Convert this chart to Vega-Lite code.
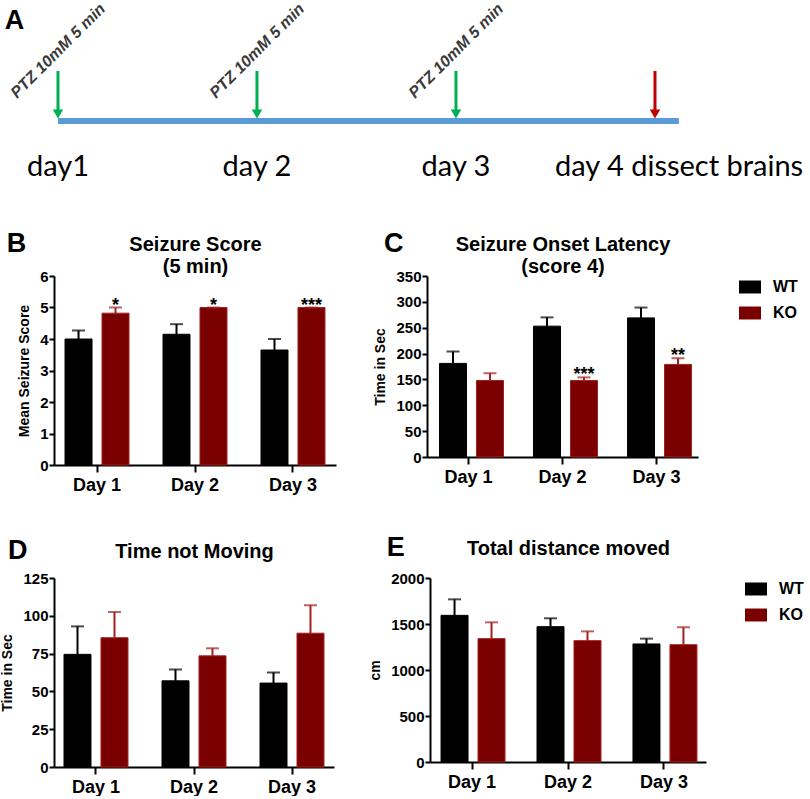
{
  "$schema": "https://vega.github.io/schema/vega-lite/v6.json",
  "background": "white",
  "padding": 0,
  "spacing": 44,
  "resolve": {"scale": {"color": "independent"}, "legend": {"color": "independent"}},
  "config": {
    "font": "Liberation Sans",
    "view": {"stroke": null},
    "title": {"font": "Liberation Sans", "fontSize": 27, "fontWeight": "bold", "color": "black", "anchor": "start", "frame": "bounds"},
    "axis": {"domainColor": "black", "domainWidth": 2, "tickColor": "black", "tickWidth": 2, "labelColor": "black", "labelFont": "Liberation Sans", "labelFontWeight": "bold", "titleFont": "Liberation Sans", "titleFontWeight": "bold", "titleColor": "black", "grid": false},
    "axisY": {"tickSize": 5, "labelFontSize": 15, "titleFontSize": 14, "labelPadding": 1, "titlePadding": 8, "labelOverlap": false},
    "axisX": {"tickSize": 7, "labelFontSize": 18, "labelAngle": 0, "labelPadding": 4, "titleFontSize": 20},
    "legend": {"labelFont": "Liberation Sans", "labelFontSize": 16, "labelFontWeight": "bold", "labelColor": "black", "symbolType": "M-1,-0.59H1V0.59H-1Z", "symbolSize": 484, "symbolStrokeWidth": 0, "rowPadding": 7, "labelOffset": 12, "padding": 0, "offset": 41}
  },
  "datasets": {
    "seizure": [
      {"day": "Day 1", "genotype": "WT", "mean": 4.0, "upper": 4.27, "sig": ""},
      {"day": "Day 1", "genotype": "KO", "mean": 4.82, "upper": 5.0, "sig": "*"},
      {"day": "Day 2", "genotype": "WT", "mean": 4.15, "upper": 4.47, "sig": ""},
      {"day": "Day 2", "genotype": "KO", "mean": 5.0, "upper": 5.0, "sig": "*"},
      {"day": "Day 3", "genotype": "WT", "mean": 3.65, "upper": 4.0, "sig": ""},
      {"day": "Day 3", "genotype": "KO", "mean": 5.0, "upper": 5.0, "sig": "***"}
    ],
    "latency": [
      {"day": "Day 1", "genotype": "WT", "mean": 181, "upper": 204, "sig": ""},
      {"day": "Day 1", "genotype": "KO", "mean": 148, "upper": 162, "sig": ""},
      {"day": "Day 2", "genotype": "WT", "mean": 253, "upper": 270, "sig": ""},
      {"day": "Day 2", "genotype": "KO", "mean": 148, "upper": 154, "sig": "***"},
      {"day": "Day 3", "genotype": "WT", "mean": 269, "upper": 289, "sig": ""},
      {"day": "Day 3", "genotype": "KO", "mean": 179, "upper": 191, "sig": "**"}
    ],
    "notmoving": [
      {"day": "Day 1", "genotype": "WT", "mean": 74.5, "upper": 93, "sig": ""},
      {"day": "Day 1", "genotype": "KO", "mean": 85.5, "upper": 102.5, "sig": ""},
      {"day": "Day 2", "genotype": "WT", "mean": 57, "upper": 64.5, "sig": ""},
      {"day": "Day 2", "genotype": "KO", "mean": 73.5, "upper": 78.5, "sig": ""},
      {"day": "Day 3", "genotype": "WT", "mean": 55.5, "upper": 62.5, "sig": ""},
      {"day": "Day 3", "genotype": "KO", "mean": 88.5, "upper": 107, "sig": ""}
    ],
    "distance": [
      {"day": "Day 1", "genotype": "WT", "mean": 1594, "upper": 1768, "sig": ""},
      {"day": "Day 1", "genotype": "KO", "mean": 1341, "upper": 1518, "sig": ""},
      {"day": "Day 2", "genotype": "WT", "mean": 1471, "upper": 1562, "sig": ""},
      {"day": "Day 2", "genotype": "KO", "mean": 1319, "upper": 1420, "sig": ""},
      {"day": "Day 3", "genotype": "WT", "mean": 1283, "upper": 1341, "sig": ""},
      {"day": "Day 3", "genotype": "KO", "mean": 1275, "upper": 1464, "sig": ""}
    ],
    "timeline": [{"start": 1, "end": 4.12}],
    "events": [
      {"day": 1, "event": "PTZ", "note": "PTZ 10mM 5 min", "label": "day1"},
      {"day": 2, "event": "PTZ", "note": "PTZ 10mM 5 min", "label": "day 2"},
      {"day": 3, "event": "PTZ", "note": "PTZ 10mM 5 min", "label": "day 3"},
      {"day": 4, "event": "dissect", "note": "", "label": "day 4 dissect brains"}
    ]
  },
  "vconcat": [
    {
      "width": 756,
      "height": 185,
      "title": {"text": "A", "offset": -34, "dx": -3},
      "layer": [
        {
          "data": {"name": "timeline"},
          "mark": {"type": "rule", "strokeWidth": 6, "color": "#5b9bd5"},
          "encoding": {
            "x": {"field": "start", "type": "quantitative", "scale": {"domain": [0.98, 4.779], "nice": false, "zero": false}, "axis": null},
            "x2": {"field": "end"},
            "y": {"datum": 0, "type": "quantitative", "scale": {"domain": [-1.3, 2.4], "nice": false, "zero": false}, "axis": null}
          }
        },
        {
          "data": {"name": "events"},
          "mark": {"type": "rule", "strokeWidth": 3},
          "encoding": {
            "x": {"field": "day", "type": "quantitative"},
            "y": {"datum": 1, "type": "quantitative"},
            "y2": {"datum": 0.2},
            "color": {"condition": {"test": "datum.event == 'PTZ'", "value": "#00b050"}, "value": "#c00000"}
          }
        },
        {
          "data": {"name": "events"},
          "mark": {"type": "point", "shape": "triangle-down", "filled": true, "size": 110, "opacity": 1},
          "encoding": {
            "x": {"field": "day", "type": "quantitative"},
            "y": {"datum": 0.14, "type": "quantitative"},
            "color": {"condition": {"test": "datum.event == 'PTZ'", "value": "#00b050"}, "value": "#c00000"}
          }
        },
        {
          "data": {"name": "events"},
          "transform": [{"filter": "datum.event == 'PTZ'"}],
          "mark": {"type": "text", "angle": -45, "align": "left", "baseline": "alphabetic", "dx": -58, "font": "Liberation Sans", "fontSize": 16, "fontWeight": "bold", "fontStyle": "italic", "color": "#3a3a3a"},
          "encoding": {
            "x": {"field": "day", "type": "quantitative"},
            "y": {"datum": 1.26, "type": "quantitative"},
            "text": {"field": "note"}
          }
        },
        {
          "data": {"name": "events"},
          "transform": [{"filter": "datum.day < 4"}],
          "mark": {"type": "text", "align": "center", "baseline": "alphabetic", "font": "Lato", "fontSize": 29, "color": "black"},
          "encoding": {
            "x": {"field": "day", "type": "quantitative"},
            "y": {"datum": -1.1, "type": "quantitative"},
            "text": {"field": "label"}
          }
        },
        {
          "data": {"name": "events"},
          "transform": [{"filter": "datum.day == 4"}],
          "mark": {"type": "text", "align": "left", "baseline": "alphabetic", "dx": -100, "font": "Lato", "fontSize": 29, "color": "black"},
          "encoding": {
            "x": {"field": "day", "type": "quantitative"},
            "y": {"datum": -1.1, "type": "quantitative"},
            "text": {"field": "label"}
          }
        }
      ]
    },
    {
      "spacing": 40,
      "resolve": {"scale": {"color": "independent"}, "legend": {"color": "independent"}},
      "vconcat": [
        {
          "spacing": 37,
          "resolve": {"scale": {"color": "independent"}, "legend": {"color": "independent"}},
          "hconcat": [
            {
              "width": 282, "height": 189,
              "title": {"text": "B", "offset": -24, "dx": -11},
              "data": {"name": "seizure"},
              "resolve": {"axis": {"x": "independent", "y": "independent"}},
              "layer": [
                {
                  "mark": {"type": "bar", "strokeWidth": 1},
                  "encoding": {
                    "x": {"field": "day", "type": "nominal", "title": null, "scale": {"paddingInner": 0.347, "paddingOuter": 0.1125}, "axis": {"orient": "bottom"}},
                    "xOffset": {"field": "genotype", "type": "nominal", "sort": ["WT", "KO"], "scale": {"paddingInner": 0.27}},
                    "y": {"field": "mean", "type": "quantitative", "title": "Mean Seizure Score", "scale": {"domain": [0, 6], "nice": false}, "axis": {"values": [0, 1, 2, 3, 4, 5, 6]}},
                    "color": {"field": "genotype", "type": "nominal", "sort": ["WT", "KO"], "scale": {"domain": ["WT", "KO"], "range": ["#000000", "#7a0000"]}, "legend": null},
                    "stroke": {"condition": {"test": "datum.genotype == 'KO'", "value": "#a3201f"}, "value": "#000000"}
                  }
                },
                {
                  "mark": {"type": "rule", "strokeWidth": 2},
                  "encoding": {
                    "x": {"field": "day", "type": "nominal", "axis": null},
                    "xOffset": {"field": "genotype", "type": "nominal", "sort": ["WT", "KO"]},
                    "y": {"field": "mean", "type": "quantitative", "axis": null},
                    "y2": {"field": "upper"},
                    "color": {"condition": {"test": "datum.genotype == 'KO'", "value": "#a3201f"}, "value": "#000000"}
                  }
                },
                {
                  "mark": {"type": "tick", "thickness": 2, "size": 13},
                  "encoding": {
                    "x": {"field": "day", "type": "nominal", "axis": {"orient": "top", "title": ["Seizure Score", "(5 min)"], "labels": false, "ticks": false, "domain": false, "titlePadding": 0}},
                    "xOffset": {"field": "genotype", "type": "nominal", "sort": ["WT", "KO"]},
                    "y": {"field": "upper", "type": "quantitative", "axis": null},
                    "color": {"condition": {"test": "datum.genotype == 'KO'", "value": "#a3201f"}, "value": "#000000"}
                  }
                },
                {
                  "transform": [{"filter": "datum.sig != ''"}],
                  "mark": {"type": "text", "baseline": "alphabetic", "dy": 3, "fontSize": 18, "fontWeight": "bold", "color": "black"},
                  "encoding": {
                    "x": {"field": "day", "type": "nominal", "axis": null},
                    "xOffset": {"field": "genotype", "type": "nominal", "sort": ["WT", "KO"]},
                    "y": {"field": "upper", "type": "quantitative", "axis": null},
                    "text": {"field": "sig"}
                  }
                }
              ]
            },
            {
              "width": 271, "height": 181,
              "title": {"text": "C", "offset": -24, "dx": 10},
              "data": {"name": "latency"},
              "resolve": {"axis": {"x": "independent", "y": "independent"}},
              "layer": [
                {
                  "mark": {"type": "bar", "strokeWidth": 1},
                  "encoding": {
                    "x": {"field": "day", "type": "nominal", "title": null, "scale": {"paddingInner": 0.383, "paddingOuter": 0.133}, "axis": {"orient": "bottom"}},
                    "xOffset": {"field": "genotype", "type": "nominal", "sort": ["WT", "KO"], "scale": {"paddingInner": 0.343}},
                    "y": {"field": "mean", "type": "quantitative", "title": "Time in Sec", "scale": {"domain": [0, 350], "nice": false}, "axis": {"values": [0, 50, 100, 150, 200, 250, 300, 350]}},
                    "color": {"field": "genotype", "type": "nominal", "sort": ["WT", "KO"], "scale": {"domain": ["WT", "KO"], "range": ["#000000", "#7a0000"]}, "legend": {"title": null, "orient": "right"}},
                    "stroke": {"condition": {"test": "datum.genotype == 'KO'", "value": "#a3201f"}, "value": "#000000"}
                  }
                },
                {
                  "mark": {"type": "rule", "strokeWidth": 2},
                  "encoding": {
                    "x": {"field": "day", "type": "nominal", "axis": null},
                    "xOffset": {"field": "genotype", "type": "nominal", "sort": ["WT", "KO"]},
                    "y": {"field": "mean", "type": "quantitative", "axis": null},
                    "y2": {"field": "upper"},
                    "color": {"condition": {"test": "datum.genotype == 'KO'", "value": "#a3201f"}, "value": "#000000"}
                  }
                },
                {
                  "mark": {"type": "tick", "thickness": 2, "size": 13},
                  "encoding": {
                    "x": {"field": "day", "type": "nominal", "axis": {"orient": "top", "title": ["Seizure Onset Latency", "(score 4)"], "labels": false, "ticks": false, "domain": false, "titlePadding": 0}},
                    "xOffset": {"field": "genotype", "type": "nominal", "sort": ["WT", "KO"]},
                    "y": {"field": "upper", "type": "quantitative", "axis": null},
                    "color": {"condition": {"test": "datum.genotype == 'KO'", "value": "#a3201f"}, "value": "#000000"}
                  }
                },
                {
                  "transform": [{"filter": "datum.sig != ''"}],
                  "mark": {"type": "text", "baseline": "alphabetic", "dy": 3, "fontSize": 18, "fontWeight": "bold", "color": "black"},
                  "encoding": {
                    "x": {"field": "day", "type": "nominal", "axis": null},
                    "xOffset": {"field": "genotype", "type": "nominal", "sort": ["WT", "KO"]},
                    "y": {"field": "upper", "type": "quantitative", "axis": null},
                    "text": {"field": "sig"}
                  }
                }
              ]
            }
          ]
        },
        {
          "spacing": 34,
          "resolve": {"scale": {"color": "independent"}, "legend": {"color": "independent"}},
          "hconcat": [
            {
              "width": 280, "height": 189,
              "title": {"text": "D", "offset": -24, "dx": 7},
              "data": {"name": "notmoving"},
              "resolve": {"axis": {"x": "independent", "y": "independent"}},
              "layer": [
                {
                  "mark": {"type": "bar", "strokeWidth": 1},
                  "encoding": {
                    "x": {"field": "day", "type": "nominal", "title": null, "scale": {"paddingInner": 0.347, "paddingOuter": 0.102}, "axis": {"orient": "bottom"}},
                    "xOffset": {"field": "genotype", "type": "nominal", "sort": ["WT", "KO"], "scale": {"paddingInner": 0.27}},
                    "y": {"field": "mean", "type": "quantitative", "title": "Time in Sec", "scale": {"domain": [0, 125], "nice": false}, "axis": {"values": [0, 25, 50, 75, 100, 125]}},
                    "color": {"field": "genotype", "type": "nominal", "sort": ["WT", "KO"], "scale": {"domain": ["WT", "KO"], "range": ["#000000", "#7a0000"]}, "legend": null},
                    "stroke": {"condition": {"test": "datum.genotype == 'KO'", "value": "#a3201f"}, "value": "#000000"}
                  }
                },
                {
                  "mark": {"type": "rule", "strokeWidth": 2},
                  "encoding": {
                    "x": {"field": "day", "type": "nominal", "axis": null},
                    "xOffset": {"field": "genotype", "type": "nominal", "sort": ["WT", "KO"]},
                    "y": {"field": "mean", "type": "quantitative", "axis": null},
                    "y2": {"field": "upper"},
                    "color": {"condition": {"test": "datum.genotype == 'KO'", "value": "#a3201f"}, "value": "#000000"}
                  }
                },
                {
                  "mark": {"type": "tick", "thickness": 2, "size": 13},
                  "encoding": {
                    "x": {"field": "day", "type": "nominal", "axis": {"orient": "top", "title": "Time not Moving", "labels": false, "ticks": false, "domain": false, "titlePadding": 17}},
                    "xOffset": {"field": "genotype", "type": "nominal", "sort": ["WT", "KO"]},
                    "y": {"field": "upper", "type": "quantitative", "axis": null},
                    "color": {"condition": {"test": "datum.genotype == 'KO'", "value": "#a3201f"}, "value": "#000000"}
                  }
                }
              ]
            },
            {
              "width": 276, "height": 184,
              "title": {"text": "E", "offset": -24, "dx": 18},
              "data": {"name": "distance"},
              "resolve": {"axis": {"x": "independent", "y": "independent"}},
              "layer": [
                {
                  "mark": {"type": "bar", "strokeWidth": 1},
                  "encoding": {
                    "x": {"field": "day", "type": "nominal", "title": null, "scale": {"paddingInner": 0.354, "paddingOuter": 0.115}, "axis": {"orient": "bottom"}},
                    "xOffset": {"field": "genotype", "type": "nominal", "sort": ["WT", "KO"], "scale": {"paddingInner": 0.249}},
                    "y": {"field": "mean", "type": "quantitative", "title": "cm", "scale": {"domain": [0, 2000], "nice": false}, "axis": {"values": [0, 500, 1000, 1500, 2000], "format": "d"}},
                    "color": {"field": "genotype", "type": "nominal", "sort": ["WT", "KO"], "scale": {"domain": ["WT", "KO"], "range": ["#000000", "#7a0000"]}, "legend": {"title": null, "orient": "right", "offset": 39}},
                    "stroke": {"condition": {"test": "datum.genotype == 'KO'", "value": "#a3201f"}, "value": "#000000"}
                  }
                },
                {
                  "mark": {"type": "rule", "strokeWidth": 2},
                  "encoding": {
                    "x": {"field": "day", "type": "nominal", "axis": null},
                    "xOffset": {"field": "genotype", "type": "nominal", "sort": ["WT", "KO"]},
                    "y": {"field": "mean", "type": "quantitative", "axis": null},
                    "y2": {"field": "upper"},
                    "color": {"condition": {"test": "datum.genotype == 'KO'", "value": "#a3201f"}, "value": "#000000"}
                  }
                },
                {
                  "mark": {"type": "tick", "thickness": 2, "size": 13},
                  "encoding": {
                    "x": {"field": "day", "type": "nominal", "axis": {"orient": "top", "title": "Total distance moved", "labels": false, "ticks": false, "domain": false, "titlePadding": 20}},
                    "xOffset": {"field": "genotype", "type": "nominal", "sort": ["WT", "KO"]},
                    "y": {"field": "upper", "type": "quantitative", "axis": null},
                    "color": {"condition": {"test": "datum.genotype == 'KO'", "value": "#a3201f"}, "value": "#000000"}
                  }
                }
              ]
            }
          ]
        }
      ]
    }
  ]
}
